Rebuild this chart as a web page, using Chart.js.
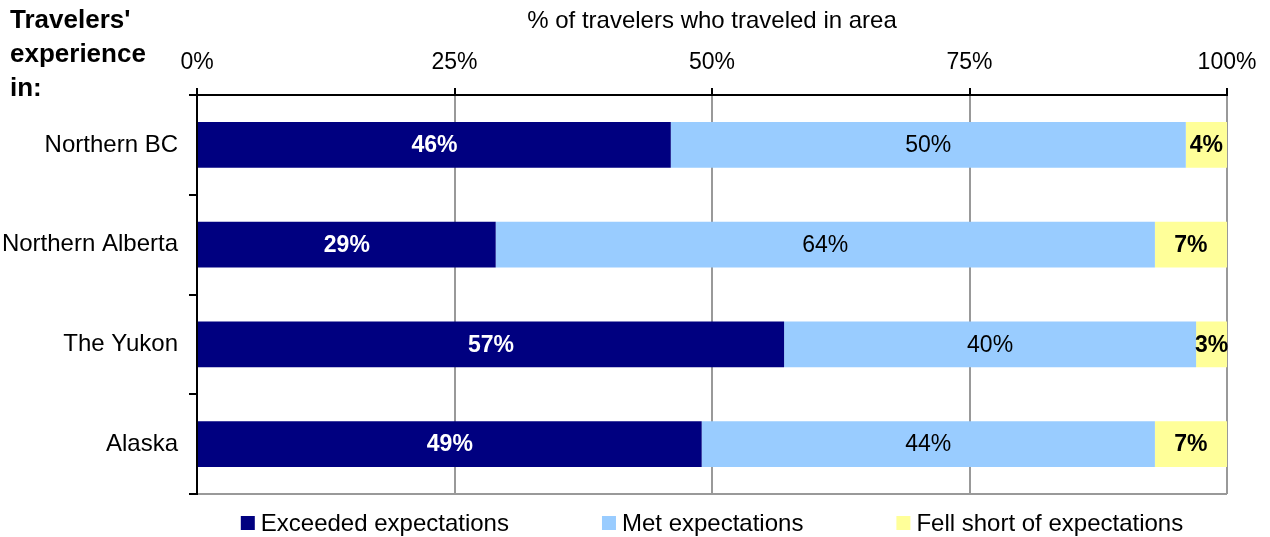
<!DOCTYPE html>
<html>
<head>
<meta charset="utf-8">
<script src="https://cdn.jsdelivr.net/npm/chart.js@4.4.0/dist/chart.umd.min.js"></script>
<style>
  html, body { margin: 0; padding: 0; background: #fff; }
  #wrap { width: 1270px; height: 537px; }
</style>
</head>
<body>
<div id="wrap"><canvas id="c" width="1270" height="537"></canvas></div>
<script>
const categories = ['Northern BC', 'Northern Alberta', 'The Yukon', 'Alaska'];
const exceeded = [46, 29, 57, 49];
const met = [50, 64, 40, 44];
const fellShort = [4, 7, 3, 7];
const seriesNames = ['Exceeded expectations', 'Met expectations', 'Fell short of expectations'];
const xTicks = [0, 25, 50, 75, 100];
const sideTitle = ["Travelers'", 'experience', 'in:'];
const axisTitle = '% of travelers who traveled in area';

const FONT = "'Liberation Sans', Arial, Helvetica, sans-serif";
Chart.defaults.font.family = FONT;
Chart.defaults.color = '#000';

const colors = ['#000080', '#99CCFF', '#FFFF99'];
const labelStyles = [
  { color: '#fff', weight: 'bold' },
  { color: '#000', weight: 'normal' },
  { color: '#000', weight: 'bold' }
];

const barLabels = {
  id: 'barLabels',
  afterDatasetsDraw(chart) {
    const ctx = chart.ctx;
    ctx.save();
    ctx.textAlign = 'center';
    ctx.textBaseline = 'middle';
    chart.data.datasets.forEach((ds, i) => {
      const meta = chart.getDatasetMeta(i);
      const st = labelStyles[i];
      ctx.fillStyle = st.color;
      ctx.font = st.weight + ' 23px ' + FONT;
      meta.data.forEach((el, j) => {
        const cx = (el.x + el.base) / 2;
        ctx.fillText(ds.data[j] + '%', cx, el.y + 1);
      });
    });
    ctx.restore();
  }
};

const extras = {
  id: 'extras',
  afterDraw(chart) {
    const ctx = chart.ctx;
    const ca = chart.chartArea;
    ctx.save();
    // side title
    ctx.fillStyle = '#000';
    ctx.font = 'bold 26px ' + FONT;
    ctx.textAlign = 'left';
    ctx.textBaseline = 'middle';
    const ys = [21, 55, 89];
    sideTitle.forEach((t, i) => ctx.fillText(t, 10, ys[i]));
    // legend
    ctx.font = '24px ' + FONT;
    const box = 14, gapText = 6, gap = 93;
    const widths = seriesNames.map(n => box + gapText + ctx.measureText(n).width);
    const total = widths.reduce((a, b) => a + b, 0) + gap * (widths.length - 1);
    let x = (ca.left + ca.right) / 2 - total / 2;
    const y = 523;
    chart.data.datasets.forEach((ds, i) => {
      ctx.fillStyle = ds.backgroundColor;
      ctx.fillRect(x, y - box / 2, box, box);
      ctx.fillStyle = '#000';
      ctx.fillText(ds.label, x + box + gapText, y + 1);
      x += widths[i] + gap;
    });
    ctx.restore();
  }
};

new Chart(document.getElementById('c'), {
  type: 'bar',
  data: {
    labels: categories,
    datasets: [
      { label: seriesNames[0], data: exceeded, backgroundColor: colors[0] },
      { label: seriesNames[1], data: met, backgroundColor: colors[1] },
      { label: seriesNames[2], data: fellShort, backgroundColor: colors[2] }
    ]
  },
  options: {
    indexAxis: 'y',
    responsive: false,
    animation: false,
    devicePixelRatio: 1,
    layout: { padding: { left: 0, right: 43, top: 0, bottom: 43 } },
    datasets: { bar: { barPercentage: 0.46, categoryPercentage: 1, borderWidth: 0 } },
    plugins: { legend: { display: false }, tooltip: { enabled: false } },
    scales: {
      x: {
        position: 'top',
        stacked: true,
        min: 0, max: 100,
        afterBuildTicks(scale) { scale.ticks = xTicks.map(v => ({ value: v })); },
        afterFit(scale) { scale.height = 95; },
        ticks: {
          font: { size: 23 }, color: '#000', padding: 12,
          callback: v => v + '%', maxRotation: 0
        },
        grid: { color: '#999', lineWidth: 2, tickColor: '#000', tickLength: 7 },
        border: { color: '#000', width: 2 },
        title: {
          display: true, text: axisTitle, font: { size: 24 }, color: '#000',
          padding: { top: 7, bottom: 0 }
        }
      },
      y: {
        stacked: true,
        afterFit(scale) { scale.width = 197; },
        ticks: { font: { size: 24 }, color: '#000', padding: 11 },
        grid: {
          color: c => c.tick ? 'rgba(0,0,0,0)' : '#999',
          lineWidth: 2, tickColor: '#000', tickLength: 8
        },
        border: { color: '#000', width: 2 }
      }
    }
  },
  plugins: [barLabels, extras]
});
</script>
</body>
</html>
